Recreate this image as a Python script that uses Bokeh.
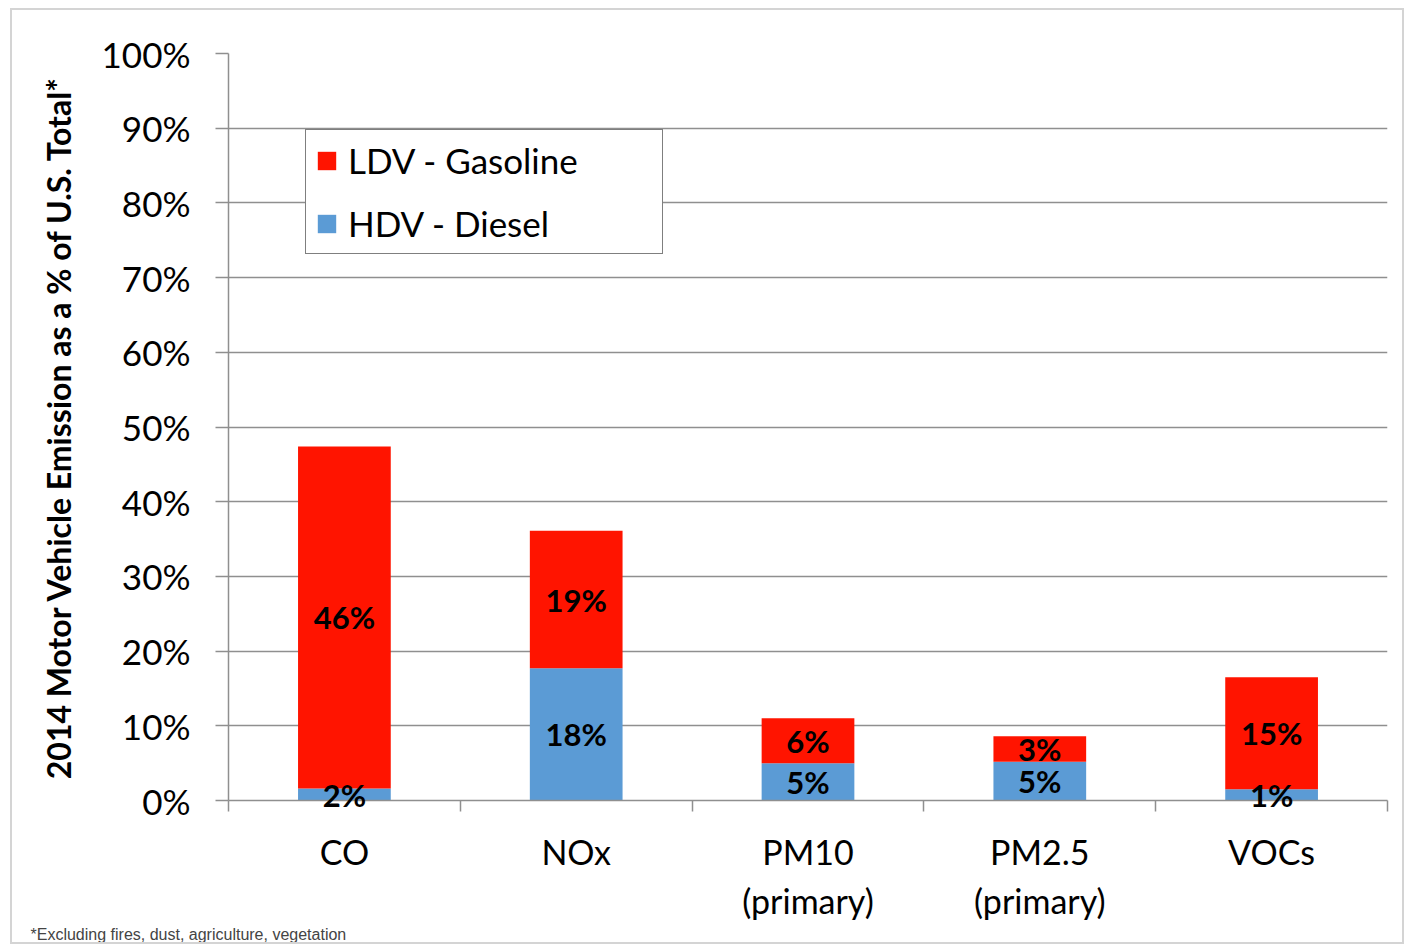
from bokeh.plotting import figure
from bokeh.models import (ColumnDataSource, Range1d, FixedTicker, PrintfTickFormatter,
                          Legend, LegendItem, Title)
from bokeh.core.properties import value
from bokeh.embed import file_html
from bokeh.resources import INLINE

categories = ["CO", "NOx", "PM10\n(primary)", "PM2.5\n(primary)", "VOCs"]
hdv_diesel = [1.6, 17.7, 5.0, 5.2, 1.5]
ldv_gasoline = [45.8, 18.4, 6.0, 3.4, 15.0]
hdv_labels = ["2%", "18%", "5%", "5%", "1%"]
ldv_labels = ["46%", "19%", "6%", "3%", "15%"]
y_ticks = [0, 10, 20, 30, 40, 50, 60, 70, 80, 90, 100]

RED = "#ff1400"
BLUE = "#5b9bd5"
GRID = "#8f8f8f"
FONT = "Lato"

xs = [i + 0.5 for i in range(len(categories))]
tops = [h + l for h, l in zip(hdv_diesel, ldv_gasoline)]
src = ColumnDataSource(dict(
    x=xs, hdv=hdv_diesel, top=tops,
    hdv_mid=[h / 2 for h in hdv_diesel],
    ldv_mid=[h + l / 2 for h, l in zip(hdv_diesel, ldv_gasoline)],
    hdv_lab=hdv_labels, ldv_lab=ldv_labels,
))

p = figure(width=1394, height=936, x_range=Range1d(0, len(categories)),
           y_range=Range1d(0, 100), output_backend="svg", toolbar_location=None,
           min_border_left=216, min_border_right=19, min_border_top=43,
           min_border_bottom=146)
p.styles = {"border": "2px solid #d4d4d4", "margin-left": "10px", "margin-top": "8px"}
p.outline_line_color = None
p.xgrid.grid_line_color = None
p.ygrid.grid_line_color = GRID
p.ygrid.grid_line_width = 1.5

r_hdv = p.vbar(x="x", width=0.4, bottom=0, top="hdv", source=src,
               fill_color=BLUE, line_color=None)
r_ldv = p.vbar(x="x", width=0.4, bottom="hdv", top="top", source=src,
               fill_color=RED, line_color=None)

# data labels, centred in each segment (overlay level so they are not clipped)
for ycol, tcol in (("hdv_mid", "hdv_lab"), ("ldv_mid", "ldv_lab")):
    p.text(x="x", y=ycol, text=tcol, source=src, level="overlay",
           text_align="center", text_baseline="middle",
           text_font=value(FONT), text_font_style="bold",
           text_font_size="31px", text_color="black")

# y axis
ya = p.yaxis[0]
ya.ticker = FixedTicker(ticks=y_ticks)
ya.formatter = PrintfTickFormatter(format="%d%%")
ya.axis_line_color = GRID
ya.axis_line_width = 1.5
ya.major_tick_line_color = GRID
ya.major_tick_line_width = 1.5
ya.major_tick_out = 13
ya.major_tick_in = 0
ya.minor_tick_line_color = None
ya.major_label_standoff = 25
ya.major_label_text_font = FONT
ya.major_label_text_font_size = "35px"
ya.major_label_text_color = "black"
ya.axis_label = "2014 Motor Vehicle Emission as a % of U.S. Total*"
ya.axis_label_text_font = FONT
ya.axis_label_text_font_style = "bold"
ya.axis_label_text_font_size = "32px"
ya.axis_label_text_color = "black"
ya.axis_label_standoff = 21

# x axis
xa = p.xaxis[0]
xa.ticker = FixedTicker(ticks=xs, minor_ticks=list(range(len(categories) + 1)))
xa.major_label_overrides = {x: c for x, c in zip(xs, categories)}
xa.axis_line_color = GRID
xa.axis_line_width = 1.5
xa.major_tick_line_color = None
xa.minor_tick_line_color = GRID
xa.minor_tick_line_width = 1.5
xa.minor_tick_out = 11
xa.minor_tick_in = 0
xa.major_label_standoff = 19
xa.major_label_text_font = FONT
xa.major_label_text_font_size = "34px"
xa.major_label_text_color = "black"

legend = Legend(items=[LegendItem(label="LDV - Gasoline", renderers=[r_ldv]),
                       LegendItem(label="HDV - Diesel", renderers=[r_hdv])],
                location=(77, 546), orientation="vertical",
                padding=9, spacing=21, margin=0,
                glyph_width=23, glyph_height=23, label_height=34,
                label_width=305, label_standoff=10,
                label_text_font=FONT, label_text_font_size="35px",
                label_text_color="black",
                border_line_color="black", border_line_width=1.5,
                background_fill_color="white", background_fill_alpha=1.0)
p.add_layout(legend)

p.add_layout(Title(text="*Excluding fires, dust, agriculture, vegetation",
                   align="left", offset=-198, standoff=0,
                   text_font="Liberation Sans", text_font_size="16px",
                   text_font_style="normal", text_color="#444444"), "below")

open("out.html", "w").write(file_html(p, INLINE))
